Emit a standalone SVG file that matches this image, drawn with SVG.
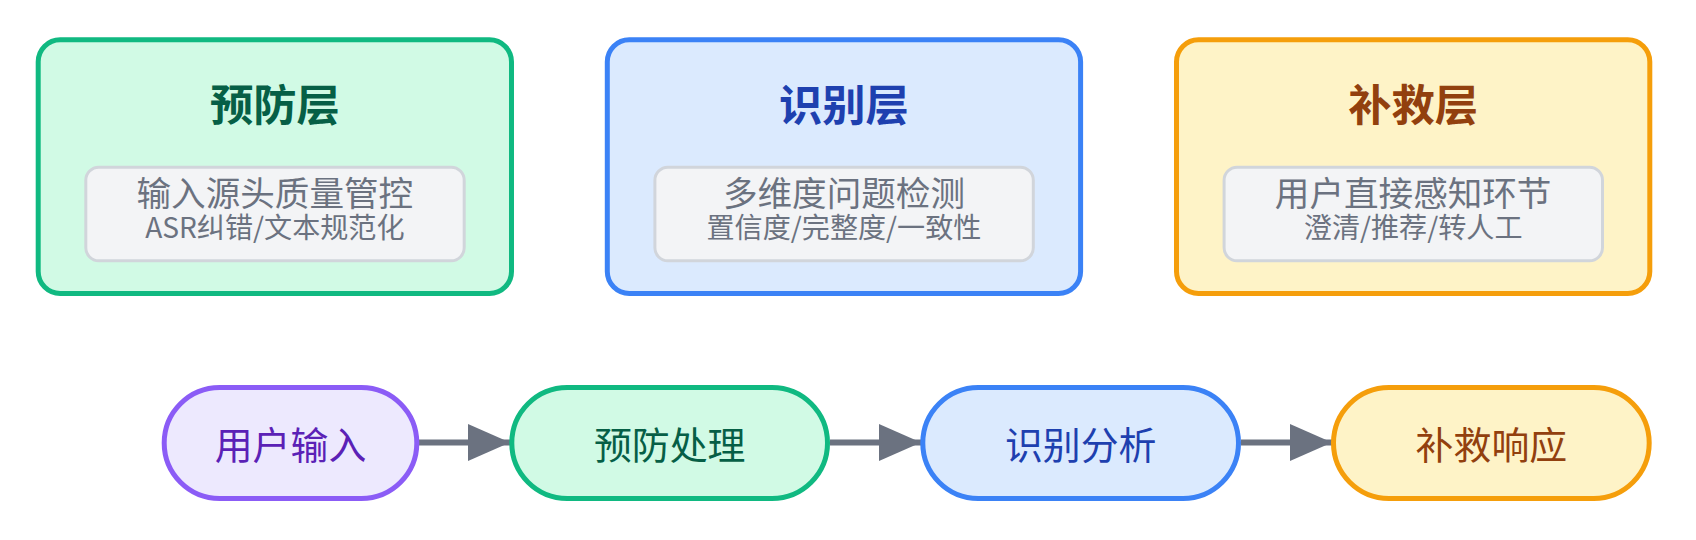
<svg xmlns="http://www.w3.org/2000/svg" width="1696" height="540" viewBox="0 0 1696 540">
  <defs>
    <style>
      text { font-family: "Noto Sans CJK SC", "Noto Sans", sans-serif; text-anchor: middle; }
      .layer { stroke-width: 5; }
      .title { font-size: 43.3px; font-weight: 700; }
      .inner { fill: #f3f4f6; stroke: #d1d5db; stroke-width: 3; }
      .l1 { font-size: 34.6px; fill: #6b7280; }
      .l2 { font-size: 28.1px; fill: #6b7280; }
      .pill { stroke-width: 5; }
      .ptext { font-size: 37.9px; }
      .conn { stroke: #6b7280; stroke-width: 6; fill: none; }
      .green { fill: #d1fae5; stroke: #10b981; }
      .blue { fill: #dbeafe; stroke: #3b82f6; }
      .amber { fill: #fef3c7; stroke: #f59e0b; }
      .purple { fill: #ede9fe; stroke: #8b5cf6; }
    </style>
    <marker id="arrow" markerUnits="userSpaceOnUse" markerWidth="42" markerHeight="37" refX="42" refY="18.5" orient="auto">
      <path d="M0,0 L42,18.5 L0,37 Z" fill="#6b7280"/>
    </marker>
  </defs>
  <rect width="1696" height="540" fill="#ffffff"/>

  <g id="layer-prevent">
    <rect class="layer green" x="38.2" y="39.8" width="473.3" height="253.7" rx="22"/>
    <text class="title" x="274.85" y="121.4" fill="#065f46">预防层</text>
    <rect class="inner" x="85.8" y="167.2" width="378.4" height="93.6" rx="13"/>
    <text class="l1" x="274.85" y="205.6">输入源头质量管控</text>
    <text class="l2" x="274.85" y="238.3">ASR纠错/文本规范化</text>
  </g>

  <g id="layer-detect">
    <rect class="layer blue" x="607.3" y="39.8" width="473.3" height="253.7" rx="22"/>
    <text class="title" x="843.95" y="121.4" fill="#1e40af">识别层</text>
    <rect class="inner" x="654.9" y="167.2" width="378.4" height="93.6" rx="13"/>
    <text class="l1" x="843.95" y="205.6">多维度问题检测</text>
    <text class="l2" x="843.95" y="238.3">置信度/完整度/一致性</text>
  </g>

  <g id="layer-remedy">
    <rect class="layer amber" x="1176.5" y="39.8" width="473.3" height="253.7" rx="22"/>
    <text class="title" x="1413.15" y="121.4" fill="#92400e">补救层</text>
    <rect class="inner" x="1224.1" y="167.2" width="378.4" height="93.6" rx="13"/>
    <text class="l1" x="1413.15" y="205.6">用户直接感知环节</text>
    <text class="l2" x="1413.15" y="238.3">澄清/推荐/转人工</text>
  </g>

  <g id="connectors">
    <line class="conn" x1="419" y1="442.5" x2="510" y2="442.5" marker-end="url(#arrow)"/>
    <line class="conn" x1="830" y1="442.5" x2="921" y2="442.5" marker-end="url(#arrow)"/>
    <line class="conn" x1="1241" y1="442.5" x2="1332" y2="442.5" marker-end="url(#arrow)"/>
  </g>

  <g id="node-input">
    <rect class="pill purple" x="164.2" y="387.5" width="252.6" height="111" rx="55.5"/>
    <text class="ptext" x="290.5" y="459" fill="#5b21b6">用户输入</text>
  </g>
  <g id="node-prevent">
    <rect class="pill green" x="511.8" y="387.5" width="315.7" height="111" rx="55.5"/>
    <text class="ptext" x="669.7" y="459" fill="#065f46">预防处理</text>
  </g>
  <g id="node-detect">
    <rect class="pill blue" x="922.8" y="387.5" width="315.7" height="111" rx="55.5"/>
    <text class="ptext" x="1080.7" y="459" fill="#1e40af">识别分析</text>
  </g>
  <g id="node-remedy">
    <rect class="pill amber" x="1333.5" y="387.5" width="315.7" height="111" rx="55.5"/>
    <text class="ptext" x="1491.4" y="459" fill="#92400e">补救响应</text>
  </g>
</svg>
